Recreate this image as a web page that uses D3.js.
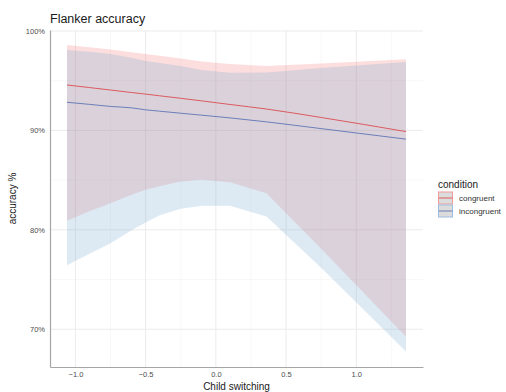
<!DOCTYPE html>
<html>
<head>
<meta charset="utf-8">
<script src="https://cdn.jsdelivr.net/npm/d3@7"></script>
<style>
  body { margin: 0; background: #fff; }
  text { font-family: "Liberation Sans", Arial, sans-serif; }
</style>
</head>
<body>
<div id="chart"></div>
<script>
// x positions where the curves were read
const switching = [-1.06, -0.9, -0.75, -0.6, -0.5, -0.4, -0.25, -0.1, 0.1, 0.36, 0.75, 1.354];

// fitted accuracy (%) per condition
const congruentFit   = [94.57, 94.31, 94.06, 93.81, 93.65, 93.48, 93.23, 92.97, 92.61, 92.15, 91.30, 89.88];
const incongruentFit = [92.83, 92.62, 92.41, 92.27, 92.07, 91.93, 91.73, 91.53, 91.26, 90.86, 90.18, 89.12];

// confidence band bounds (%)
const congruentLow   = [80.90, 81.86, 82.68, 83.52, 84.02, 84.37, 84.87, 85.03, 84.79, 83.69, 78.09, 69.25];
const congruentHigh  = [98.59, 98.36, 98.14, 97.87, 97.69, 97.51, 97.24, 96.93, 96.68, 96.48, 96.73, 97.16];
const incongruentLow = [76.43, 77.59, 78.66, 79.95, 80.73, 81.46, 82.11, 82.41, 82.41, 81.34, 76.18, 67.77];
const incongruentHigh= [98.09, 97.90, 97.69, 97.30, 96.98, 96.78, 96.48, 96.08, 95.81, 95.83, 96.28, 96.88];

const conditions = ["congruent", "incongruent"];
const xTicks = [-1.0, -0.5, 0.0, 0.5, 1.0];
const yTicks = [70, 80, 90, 100];

const width = 506, height = 392;
const margin = { top: 30, right: 83, bottom: 25, left: 50 };

const lineColor = { congruent: "#dc5a5f", incongruent: "#6b7fb8" };
const fillColor = { congruent: "rgba(245,90,90,0.2)", incongruent: "rgba(120,170,210,0.25)" };
const keyBorder = { congruent: "#f19a9a", incongruent: "#9cbde0" };

const series = {
  congruent:   switching.map((x, i) => ({ x, fit: congruentFit[i],   lo: congruentLow[i],   hi: congruentHigh[i] })),
  incongruent: switching.map((x, i) => ({ x, fit: incongruentFit[i], lo: incongruentLow[i], hi: incongruentHigh[i] }))
};

const svg = d3.select("#chart").append("svg")
  .attr("width", width)
  .attr("height", height);

const x = d3.scaleLinear()
  .domain([-1.181, 1.475])
  .range([margin.left, width - margin.right]);

const y = d3.scaleLinear()
  .domain([66.2, 100.1])
  .range([height - margin.bottom, margin.top]);

// grid
const grid = svg.append("g");
const minorX = [-0.75, -0.25, 0.25, 0.75, 1.25];
const minorY = [75, 85, 95];
grid.selectAll("line.mx").data(minorX).enter().append("line")
  .attr("x1", d => x(d)).attr("x2", d => x(d))
  .attr("y1", y.range()[0]).attr("y2", y.range()[1])
  .attr("stroke", "#f3f3f3").attr("stroke-width", 0.6);
grid.selectAll("line.my").data(minorY).enter().append("line")
  .attr("y1", d => y(d)).attr("y2", d => y(d))
  .attr("x1", x.range()[0]).attr("x2", x.range()[1])
  .attr("stroke", "#f3f3f3").attr("stroke-width", 0.6);
grid.selectAll("line.gx").data(xTicks).enter().append("line")
  .attr("x1", d => x(d)).attr("x2", d => x(d))
  .attr("y1", y.range()[0]).attr("y2", y.range()[1])
  .attr("stroke", "#ebebeb").attr("stroke-width", 1);
grid.selectAll("line.gy").data(yTicks).enter().append("line")
  .attr("y1", d => y(d)).attr("y2", d => y(d))
  .attr("x1", x.range()[0]).attr("x2", x.range()[1])
  .attr("stroke", "#ebebeb").attr("stroke-width", 1);

// ribbons
const area = d3.area()
  .x(d => x(d.x))
  .y0(d => y(d.lo))
  .y1(d => y(d.hi));

conditions.forEach(c => {
  svg.append("path")
    .datum(series[c])
    .attr("d", area)
    .attr("fill", fillColor[c]);
});

// lines
const line = d3.line()
  .x(d => x(d.x))
  .y(d => y(d.fit))
  .curve(d3.curveMonotoneX);

conditions.forEach(c => {
  svg.append("path")
    .datum(series[c])
    .attr("d", line)
    .attr("fill", "none")
    .attr("stroke", lineColor[c])
    .attr("stroke-width", 1);
});

// axes
const xAxis = svg.append("g")
  .attr("transform", `translate(0,${height - margin.bottom})`)
  .call(d3.axisBottom(x).tickValues(xTicks).tickFormat(d3.format(".1f")).tickSize(0).tickPadding(5));
const yAxis = svg.append("g")
  .attr("transform", `translate(${margin.left},0)`)
  .call(d3.axisLeft(y).tickValues(yTicks).tickFormat(d => d + "%").tickSize(0).tickPadding(5));

[xAxis, yAxis].forEach(a => {
  a.select(".domain").attr("stroke", "#a6a6a6").attr("stroke-width", 1.2);
  a.selectAll("text").attr("fill", "#4d4d4d").style("font-size", "7.5px");
});

// titles
svg.append("text")
  .attr("x", 50).attr("y", 23)
  .style("font-size", "12.5px")
  .attr("fill", "#1a1a1a")
  .text("Flanker accuracy");

svg.append("text")
  .attr("x", (x.range()[0] + x.range()[1]) / 2)
  .attr("y", 390)
  .attr("text-anchor", "middle")
  .style("font-size", "10px")
  .attr("fill", "#1a1a1a")
  .text("Child switching");

svg.append("text")
  .attr("transform", `translate(16,${(y.range()[0] + y.range()[1]) / 2}) rotate(-90)`)
  .attr("text-anchor", "middle")
  .style("font-size", "10px")
  .attr("fill", "#1a1a1a")
  .text("accuracy %");

// legend
const legend = svg.append("g").attr("transform", "translate(438,0)");
legend.append("text")
  .attr("x", 0).attr("y", 188)
  .style("font-size", "10px")
  .attr("fill", "#1a1a1a")
  .text("condition");

conditions.forEach((c, i) => {
  const ky = 192 + i * 13;
  legend.append("rect")
    .attr("x", 0.5).attr("y", ky)
    .attr("width", 14).attr("height", 12)
    .attr("fill", "#dcdcdc")
    .attr("stroke", keyBorder[c]);
  legend.append("line")
    .attr("x1", 1).attr("x2", 14.5)
    .attr("y1", ky + 6).attr("y2", ky + 6)
    .attr("stroke", lineColor[c]);
  legend.append("text")
    .attr("x", 21).attr("y", ky + 9)
    .style("font-size", "8px")
    .attr("fill", "#333")
    .text(c);
});
</script>
</body>
</html>
